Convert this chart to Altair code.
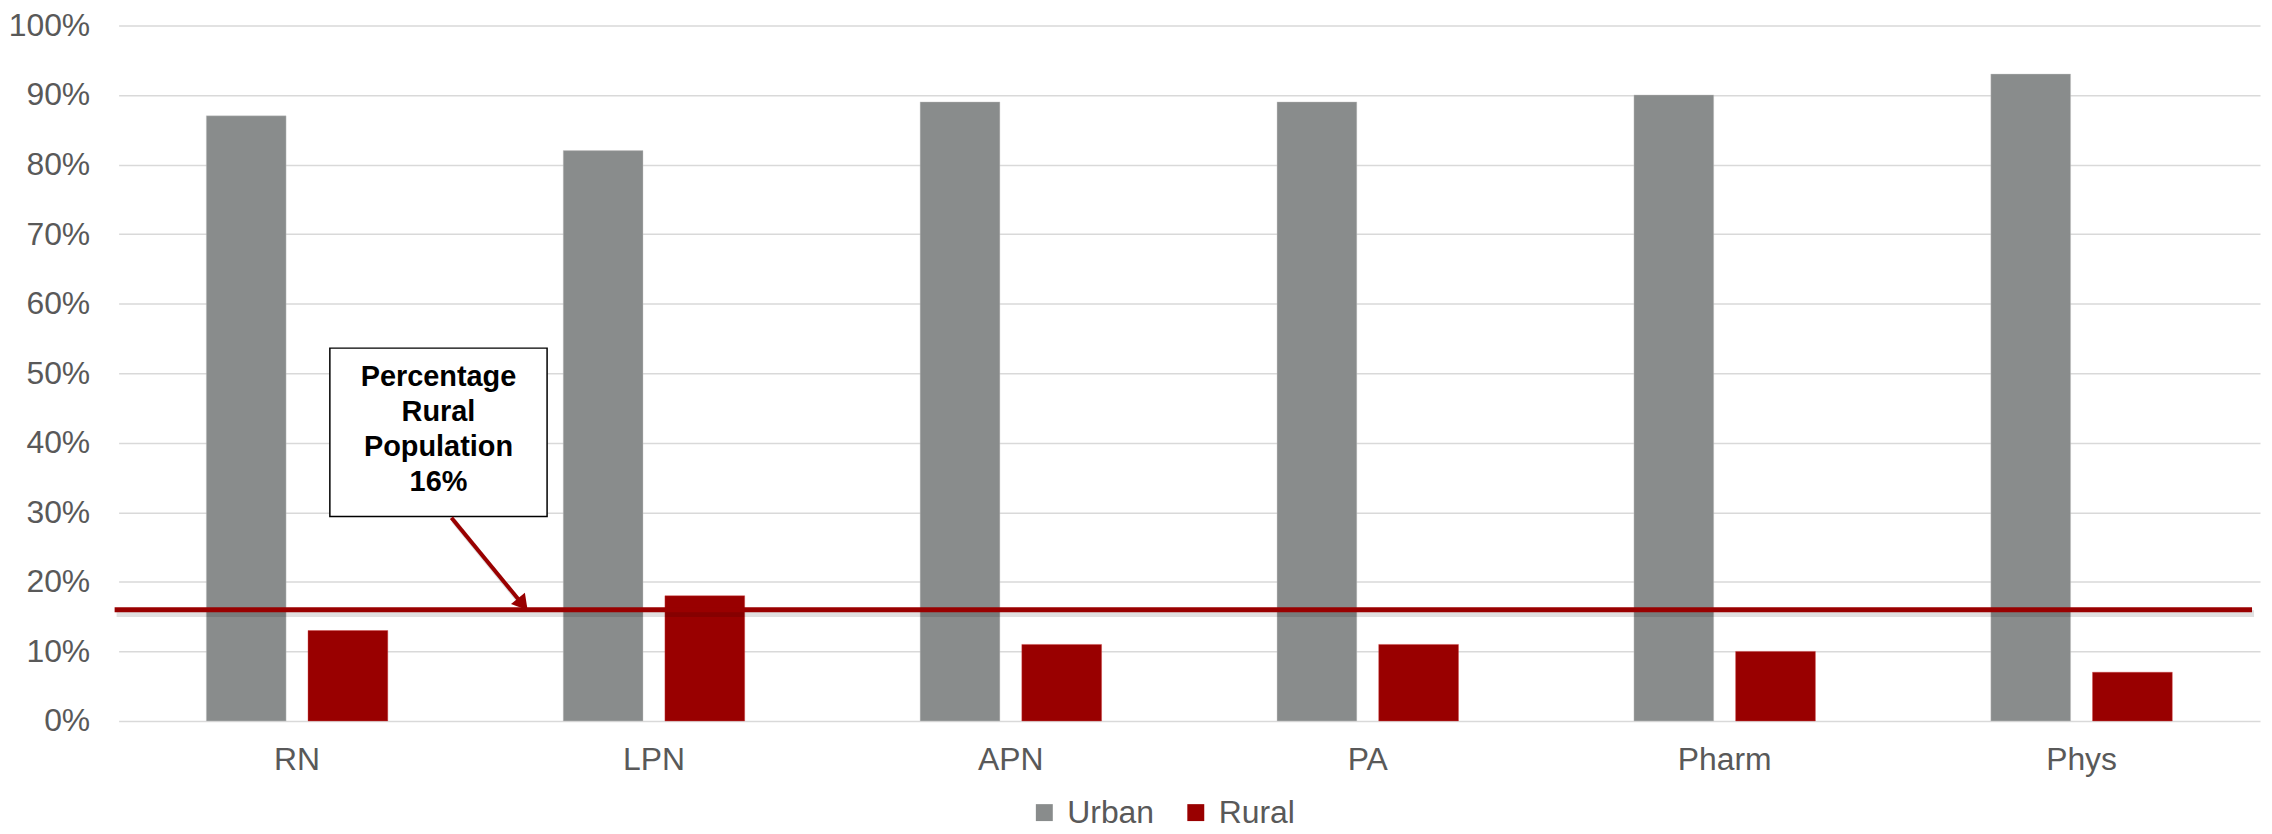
import altair as alt
import pandas as pd

categories = ["RN", "LPN", "APN", "PA", "Pharm", "Phys"]
urban = [87, 82, 89, 89, 90, 93]
rural = [13, 18, 11, 11, 10, 7]
series = ["Urban", "Rural"]
series_colors = ["#898c8c", "#990000"]
rural_population = 16
annotation_lines = ["Percentage", "Rural", "Population", "16%"]
y_ticks = [0, 10, 20, 30, 40, 50, 60, 70, 80, 90, 100]

rows = []
for c, u, r in zip(categories, urban, rural):
    rows.append({"cat": c, "series": "Urban", "value": u})
    rows.append({"cat": c, "series": "Rural", "value": r})
df = pd.DataFrame(rows)

FONT = "Liberation Sans"
RED = "#990000"
W, H = 2149, 698

bars = alt.Chart(df).mark_bar(strokeWidth=1, strokeOpacity=0.4).encode(
    x=alt.X("cat:N", sort=categories,
            scale=alt.Scale(paddingInner=0, paddingOuter=0),
            axis=alt.Axis(title=None, labelAngle=0, domain=False, ticks=False,
                          labelFontSize=32, labelColor="#595959", labelPadding=24,
                          labelFont=FONT)),
    xOffset=alt.XOffset("series:N", sort=series,
                        scale=alt.Scale(paddingInner=0.2157, paddingOuter=0.8628)),
    y=alt.Y("value:Q", scale=alt.Scale(domain=[0, 100], nice=False),
            axis=alt.Axis(values=y_ticks, labelExpr="datum.value + '%'", title=None,
                          domain=False, ticks=False, gridColor="#d9d9d9", gridWidth=1.5,
                          labelFontSize=32, labelColor="#595959", labelPadding=29,
                          labelFont=FONT)),
    color=alt.Color("series:N", sort=series,
                    scale=alt.Scale(domain=series, range=series_colors),
                    legend=alt.Legend(title=None, orient="none", direction="horizontal",
                                      legendX=913, legendY=774, symbolType="square",
                                      symbolSize=289, symbolStrokeWidth=0,
                                      labelFontSize=32, labelColor="#595959",
                                      labelFont=FONT, labelOffset=7, columnPadding=25,
                                      padding=0)),
    stroke=alt.Color("series:N", sort=series,
                     scale=alt.Scale(domain=series, range=["#c8c8c8", "#d04040"]),
                     legend=None),
)

shadow = alt.Chart().mark_rule(color="#000000", opacity=0.12, strokeWidth=7, yOffset=4).encode(
    y=alt.datum(rural_population), x=alt.value(-2), x2=alt.value(W - 6))
rule = alt.Chart().mark_rule(color=RED, strokeWidth=5).encode(
    y=alt.datum(rural_population), x=alt.value(-4), x2=alt.value(W - 8))

box = alt.Chart().mark_rect(fill="white", stroke="black", strokeWidth=1.5).encode(
    x=alt.value(212), x2=alt.value(430), y=alt.datum(53.6), y2=alt.datum(29.4))
label = alt.Chart().mark_text(text=annotation_lines, font=FONT, fontSize=29,
                              fontWeight="bold", color="black", lineHeight=35,
                              align="center", baseline="middle").encode(
    x=alt.value(321), y=alt.datum(49.4))

arrow_shadow = alt.Chart().mark_rule(color="#000000", opacity=0.12, strokeWidth=5).encode(
    x=alt.value(336), y=alt.value(497), x2=alt.value(402), y2=alt.value(578))
arrow = alt.Chart().mark_rule(color=RED, strokeWidth=4).encode(
    x=alt.value(334), y=alt.value(494), x2=alt.value(402), y2=alt.value(577))
head = alt.Chart().mark_point(shape="triangle", angle=141, size=320, filled=True,
                              color=RED, opacity=1).encode(
    x=alt.value(404), y=alt.value(579))

chart = alt.layer(bars, shadow, rule, box, label, arrow_shadow, arrow, head).properties(
    width=W, height=H,
    autosize=alt.AutoSizeParams(type="none"),
    padding={"left": 111, "top": 16, "right": 4, "bottom": 110},
).configure_view(stroke=None)

chart.save("out.html", embed_options={"renderer": "svg", "actions": False})
